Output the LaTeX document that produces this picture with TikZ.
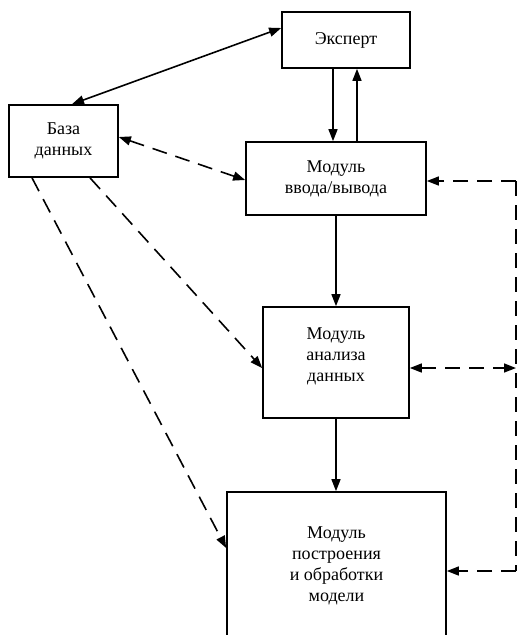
\documentclass[tikz,border=0pt]{standalone}
\usepackage{fontspec}
\setmainfont{Liberation Serif}
\usetikzlibrary{arrows.meta,calc}
\begin{document}
\begin{tikzpicture}[x=1pt,y=-1pt,
  box/.style={draw,line width=1.7pt,inner sep=0pt,align=center,
    font=\fontsize{18}{21}\selectfont},
  txt/.style={inner sep=0pt,align=center,font=\fontsize{18}{21}\selectfont},
  conn/.style={line width=1.6pt},
  dsh/.style={line width=1.6pt,dash pattern=on 15pt off 9pt},
  tip/.style={-{Triangle[length=12pt,width=9pt]}},
  tips/.style={{Triangle[length=12pt,width=9pt]}-{Triangle[length=12pt,width=9pt]}}]
\useasboundingbox (0,0) rectangle (518,635);
\clip (0,0) rectangle (518,635);
\node[box,minimum width=128pt,minimum height=56pt] (exp) at (346,40) {Эксперт};
\node[box,minimum width=109pt,minimum height=72pt] (db) at (63.5,141) {База\\данных};
\node[box,minimum width=180pt,minimum height=73pt] (io) at (336,178.5) {Модуль\\ввода/вывода};
\node[box,minimum width=146pt,minimum height=111pt] (an) at (336,362.5) {};
\node[txt] (antext) at (336,356) {Модуль\\анализа\\данных};
\node[box,minimum width=219pt,minimum height=148pt] (pm) at (336.5,566) {Модуль\\построения\\и обработки\\модели\hspace{6pt}};
\coordinate (r1) at (516,181);
\coordinate (r2) at (516,368);
\coordinate (r3) at (516,571);
% solid connectors
\draw[conn,tips] ($(exp.west)+(0,-12)$) -- ($(db.north)+(8.5,0)$);
\draw[conn,tip] ($(exp.south)+(-13,0)$) -- ($(io.north)+(-3,0)$);
\draw[conn,tip] ($(io.north)+(21,0)$) -- ($(exp.south)+(11,0)$);
\draw[conn,tip] (io.south) -- (an.north);
\draw[conn,tip] (an.south) -- (an.south |- pm.north);
% dashed connectors
\draw[dsh,tips] ($(db.east)+(0,-4)$) -- ($(io.west)+(0,1.5)$);
\draw[dsh,tip] ($(db.south)+(26.5,0)$) -- ($(an.west)+(0,5.5)$);
\draw[dsh,tip] ($(db.south)+(-31.5,0)$) -- ($(pm.west)+(0,-18)$);
\draw[dsh] (r1) -- (r3);
\draw[dsh,tip] (r1) -- (io.east |- r1);
\draw[dsh,tips] (an.east |- r2) -- (r2);
\draw[dsh,tip] (r3) -- (pm.east |- r3);
\end{tikzpicture}
\end{document}
